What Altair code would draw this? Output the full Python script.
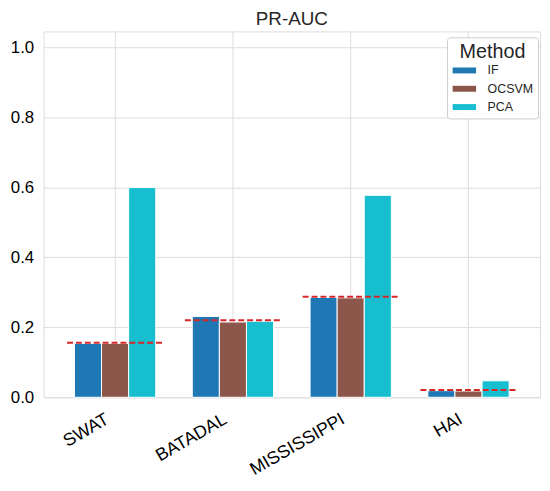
import altair as alt
import pandas as pd

datasets = ["SWAT", "BATADAL", "MISSISSIPPI", "HAI"]
methods = ["IF", "OCSVM", "PCA"]
if_vals = [0.154, 0.231, 0.285, 0.019]
ocsvm_vals = [0.154, 0.215, 0.284, 0.018]
pca_vals = [0.599, 0.217, 0.577, 0.047]
baseline = [0.156, 0.220, 0.287, 0.021]
colors = ["#1f77b4", "#8c564b", "#17becf"]

rows = []
for i, d in enumerate(datasets):
    for m, vals in zip(methods, [if_vals, ocsvm_vals, pca_vals]):
        rows.append({"dataset": d, "method": m, "value": vals[i]})
df = pd.DataFrame(rows)
base_df = pd.DataFrame({"dataset": datasets, "baseline": baseline})

FONT = "Liberation Sans"

xscale = alt.Scale(paddingInner=0.31, paddingOuter=0.262)
xaxis = alt.Axis(labelAngle=-30, labelAlign="right", labelBaseline="top", grid=True,
                 bandPosition=0.5, ticks=False, domain=False, labelFontSize=18,
                 labelPadding=13, labelOffset=-12)
yscale = alt.Scale(domain=[0, 1.045], nice=False)
yaxis = alt.Axis(values=[0, 0.2, 0.4, 0.6, 0.8, 1.0], format=".1f", ticks=False,
                 domain=False, labelFontSize=17, labelPadding=10)

bars = alt.Chart(df).mark_bar(stroke="white", strokeWidth=1).encode(
    x=alt.X("dataset:N", sort=datasets, title=None, scale=xscale, axis=xaxis),
    xOffset=alt.XOffset("method:N", sort=methods, scale=alt.Scale(paddingInner=0, paddingOuter=0)),
    y=alt.Y("value:Q", title=None, scale=yscale, axis=yaxis),
    color=alt.Color("method:N", sort=methods,
                    scale=alt.Scale(domain=methods, range=colors),
                    legend=alt.Legend(orient="none", legendX=408, legendY=6,
                                      title="Method", titleFontSize=20,
                                      titleFontWeight="normal", titleAnchor="middle",
                                      titleColor="#262626", titleFont=FONT,
                                      labelFontSize=12.5, labelColor="#262626", labelFont=FONT,
                                      symbolType="M-1.9,-0.48H1.9V0.48H-1.9Z", symbolSize=156,
                                      symbolStrokeWidth=0, symbolOffset=6,
                                      labelOffset=17,
                                      fillColor="white", strokeColor="#cccccc",
                                      padding=5, cornerRadius=3, rowPadding=5.5,
                                      titlePadding=2)),
)

rules = alt.Chart(base_df).mark_rule(color="#d62728", strokeWidth=2, strokeDash=[6, 3],
                                     xOffset=-7.5, x2Offset=7.5).encode(
    x=alt.X("dataset:N", sort=datasets, bandPosition=0),
    x2=alt.X2("dataset", bandPosition=1),
    y=alt.Y("baseline:Q"),
)

chart = alt.layer(bars, rules).properties(
    width=502, height=370,
    title=alt.TitleParams("PR-AUC", fontSize=19, fontWeight="normal", offset=2,
                          color="#262626", font=FONT, frame="group"),
    autosize=alt.AutoSizeParams(type="none"),
    padding={"left": 36, "top": 21, "right": 2, "bottom": 84},
).configure_view(stroke="#cccccc", strokeWidth=1.6).configure_axis(
    gridColor="#cfcfcf", gridWidth=1.5, labelColor="#262626", labelFont=FONT
).configure(background="white")

chart.save("out.html", embed_options={"renderer": "svg", "actions": False})
